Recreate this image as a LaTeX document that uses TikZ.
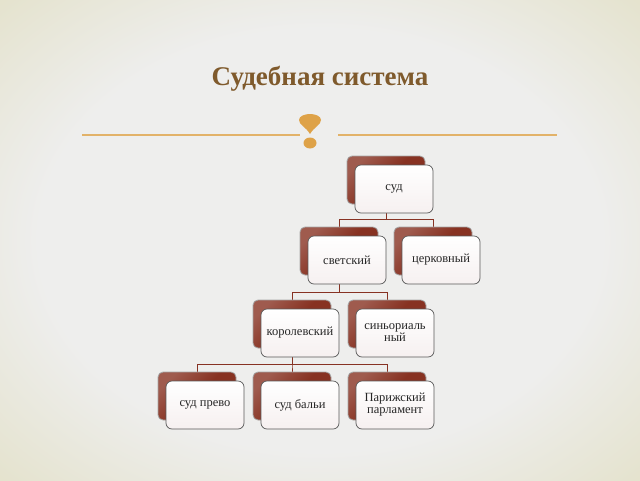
\documentclass[tikz,border=0pt]{standalone}
\usepackage{fontspec}
\setmainfont{Liberation Serif}
\usetikzlibrary{backgrounds,calc}
\definecolor{boxred}{RGB}{135,50,34}
\definecolor{linkred}{RGB}{135,50,35}
\definecolor{titlebrown}{RGB}{127,90,44}
\definecolor{ornament}{RGB}{222,162,72}
\definecolor{rulegold}{RGB}{226,178,105}
\definecolor{bgcenter}{RGB}{238,238,237}
\definecolor{bgcorner}{RGB}{228,226,204}
\pgfdeclareradialshading{slidebg}{\pgfpoint{0bp}{0bp}}{color(0bp)=(bgcenter); color(22bp)=(bgcenter); color(36bp)=(bgcorner); color(50bp)=(bgcorner)}
\tikzstyle{backbox}=[rectangle,rounded corners=5pt,draw=gray!70,line width=0.8pt,left color=boxred!80!white,right color=boxred,middle color=boxred,shading angle=45,minimum width=78pt,minimum height=48pt,inner sep=0pt]
\tikzstyle{frontbox}=[rectangle,rounded corners=6pt,draw=black!65,line width=0.7pt,top color=white,bottom color={rgb,255:red,246;green,240;blue,240},minimum width=78pt,minimum height=48pt,inner sep=1pt,align=center,font=\fontsize{12.5}{12}\selectfont,text=black!85]
\tikzstyle{link}=[draw=linkred,line width=0.9pt]
\tikzstyle{rulegold}=[draw=rulegold,line width=1.2pt]

\begin{document}
\begin{tikzpicture}[x=1pt,y=-1pt]

% background
\useasboundingbox (0,0) rectangle (640,480);
\begin{scope}[on background layer]
\shade[shading=slidebg] (0,0) rectangle (640,480);
\end{scope}

% Title
\node[font=\bfseries\fontsize{27}{30}\selectfont,text=titlebrown] (title) at (320,79) {Судебная система};

% ornament
\coordinate (rl0) at (82,135);
\coordinate (rl1) at (300,135);
\coordinate (rr0) at (338,135);
\coordinate (rr1) at (557,135);
\draw[rulegold] (rl0) -- (rl1);
\draw[rulegold] (rr0) -- (rr1);
\fill[ornament] (310,134) .. controls (306,127) and (299,125) .. (299,120)
   .. controls (299,116) and (305,114) .. (310,114)
   .. controls (315,114) and (321,116) .. (321,120)
   .. controls (321,125) and (314,127) .. (310,134) -- cycle;
\fill[ornament] (310,143) ellipse (6.5 and 5.5);

% boxes: back (dark) and front (white)
\foreach \pos/\name/\label in {{(386,180)/sud/суд}, {(339,251)/svet/светский}, {(433,251)/cerk/церковный},
    {(292,324)/korol/королевский}, {(387,324)/sinor/синьориаль\\ный},
    {(197,396)/prevo/суд прево}, {(292,396)/bali/суд бальи}, {(387,396)/parl/Парижский\\парламент}}
{
    \node[backbox] (\name-b) at \pos {};
    \node[frontbox] (\name) at ($(\name-b)+(8,9)$) {\label};
}

% Connect boxes
\begin{scope}[on background layer]
\foreach \source/\dest in {sud/svet, sud/cerk, svet/korol, svet/sinor, korol/prevo, korol/bali, korol/parl}
    \path[link] (\source-b) |- ([yshift=7pt]\dest-b.north) -| (\dest-b);
\end{scope}

\end{tikzpicture}
\end{document}
